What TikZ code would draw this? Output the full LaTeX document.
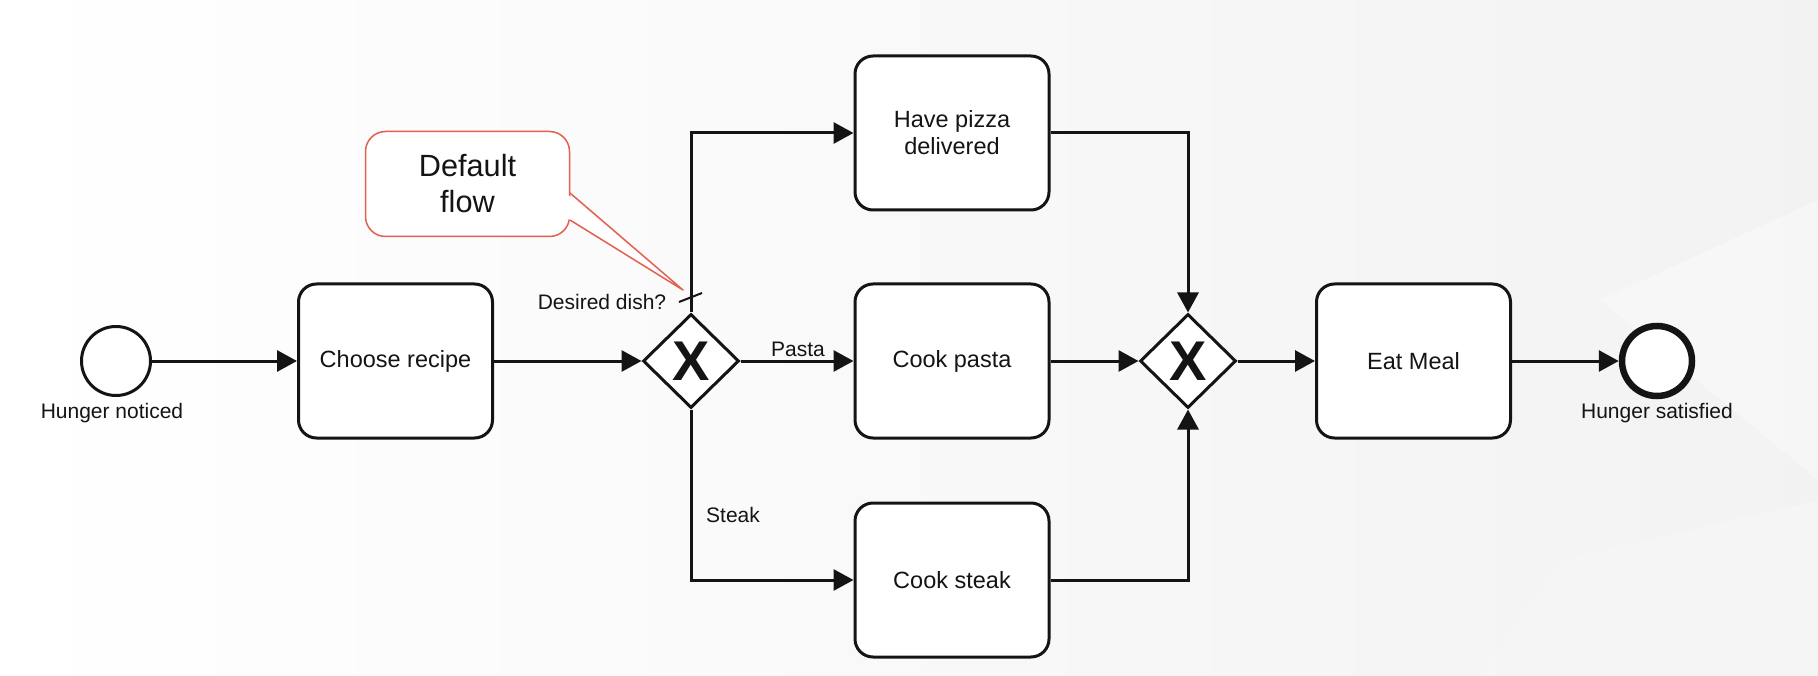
\documentclass[tikz,border=0pt]{standalone}
\usepackage{fontspec}
\setmainfont{Liberation Sans}
\usetikzlibrary{shapes.geometric,arrows.meta}
\definecolor{ink}{RGB}{20,20,20}
\definecolor{calloutred}{RGB}{228,96,78}
\begin{document}
\begin{tikzpicture}[x=1pt,y=-1pt,
  task/.style={draw=ink, line width=3pt, rounded corners=18pt, fill=white,
    minimum width=194pt, minimum height=154pt, align=center,
    font=\fontsize{23.5}{27}\selectfont, text=ink, inner sep=0pt},
  gateway/.style={diamond, draw=ink, line width=3pt, fill=white,
    minimum width=96pt, minimum height=94pt, inner sep=0pt, text=ink,
    font=\bfseries\fontsize{56}{56}\selectfont},
  startev/.style={circle, draw=ink, line width=3pt, fill=white, minimum size=69pt, inner sep=0pt},
  endev/.style={circle, draw=ink, line width=6.5pt, fill=white, minimum size=70pt, inner sep=0pt},
  lbl/.style={font=\fontsize{21}{25}\selectfont, text=ink, inner sep=0pt},
  flow/.style={draw=ink, line width=3pt, -{Triangle[length=20pt,width=21pt]}},
  calloutbox/.style={draw=calloutred, line width=1.5pt, rounded corners=20pt, fill=white,
    minimum width=204pt, minimum height=105pt, align=center, text=ink,
    font=\fontsize{30.7}{36}\selectfont}
]
\useasboundingbox (0,0) rectangle (1818,676);
% background
\fill[left color=white, right color=black!5] (0,0) rectangle (1818,676);
\fill[black!3, opacity=0.6] (1480,676) -- (1560,560) -- (1818,500) -- (1818,676) -- cycle;
\fill[black!2, opacity=0.6] (1600,300) -- (1818,200) -- (1818,480) -- cycle;

% events, tasks, gateways
\node[startev] (start) at (116,361) {};
\node[lbl] (startlbl) at (112,413) {Hunger noticed};
\node[task] (choose) at (395.5,361) {Choose recipe};
\node[gateway] (g1) at (691,361) {X};
\node[task] (pizza) at (952,133) {Have pizza\\delivered};
\node[task] (pasta) at (952,361) {Cook pasta};
\node[task] (steak) at (952,580) {Cook steak};
\node[gateway] (g2) at (1188,361) {X};
\node[task] (eat) at (1413.5,361) {Eat Meal};
\node[endev] (end) at (1657,361) {};
\node[lbl] (endlbl) at (1657,413) {Hunger satisfied};

% flows
\draw[flow] (start) -- (choose);
\draw[flow] (choose) -- (g1);
\draw[flow] (g1.north) |- (pizza.west);
\draw[flow] (g1) -- (pasta);
\draw[flow] (g1.south) |- (steak.west);
\draw[flow] (pizza.east) -| (g2.north);
\draw[flow] (pasta) -- (g2);
\draw[flow] (steak.east) -| (g2.south);
\draw[flow] (g2) -- (eat);
\draw[flow] (eat) -- (end);

% labels
\node[lbl] (desired) at (602,302) {Desired dish?};
\node[lbl] (pastalbl) at (798,349) {Pasta};
\node[lbl] (steaklbl) at (733,515) {Steak};

% default flow marker
\coordinate (sl1) at (679,302);
\coordinate (sl2) at (702,293);
\draw[ink, line width=2pt] (sl1) -- (sl2);

% callout
\node[calloutbox] (callout) at (467.5,184) {Default\\flow};
\coordinate (p1) at (570,193);
\coordinate (p2) at (570,220);
\coordinate (ptip) at (683,290);
\fill[white] (567.5,194.5) -- (ptip) -- (567.5,218.5) -- cycle;
\draw[calloutred, line width=1.5pt, line join=round] (p1) -- (ptip) -- (p2);
\end{tikzpicture}
\end{document}
